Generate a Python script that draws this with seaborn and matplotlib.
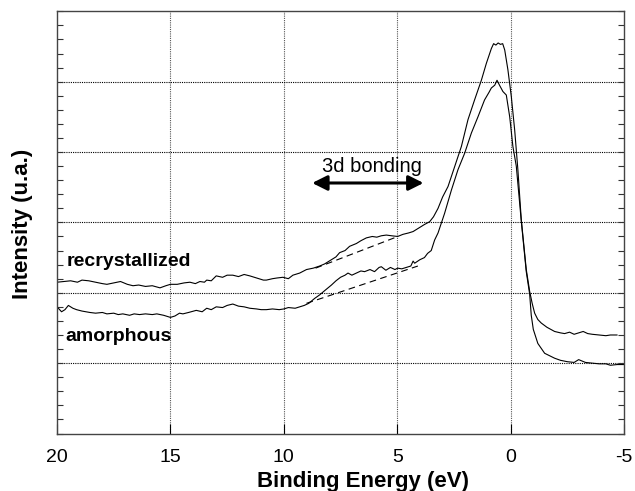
import numpy as np
import pandas as pd
import matplotlib
matplotlib.use("Agg")
import matplotlib.pyplot as plt
import seaborn as sns
from matplotlib.ticker import MultipleLocator, FixedLocator, NullFormatter

# ---------------- data ----------------
recryst_E = [20.0, 19.7, 19.4, 19.1, 18.9, 18.6, 18.3, 18.0, 17.8, 17.5, 17.2, 16.9, 16.65,
             16.4, 16.1, 15.8, 15.46, 15.2, 15.0, 14.7, 14.4, 14.14, 13.9, 13.7, 13.5, 13.4,
             13.2, 12.98, 12.7, 12.5, 12.25, 12.0, 11.75, 11.5, 11.2, 10.9, 10.77, 10.5, 10.3,
             10.04, 9.8, 9.6, 9.3, 9.0, 8.7, 8.42, 8.2, 7.9, 7.7, 7.54, 7.3, 7.1, 6.8, 6.6,
             6.36, 6.1, 5.9, 5.7, 5.48, 5.25, 4.98, 4.75, 4.5, 4.3, 4.0, 3.8, 3.57, 3.4, 3.2,
             3.0, 2.76, 2.47, 2.17, 1.88, 1.59, 1.29, 1.07, 0.85, 0.75, 0.65, 0.55, 0.45, 0.35,
             0.26, 0.12, -0.03, -0.18, -0.32, -0.47, -0.69, -0.84, -0.95, -1.06, -1.2, -1.35,
             -1.6, -1.94, -2.2, -2.38, -2.6, -2.8, -3.0, -3.2, -3.4, -3.6, -3.9, -4.2, -4.4, -4.7]
recryst_I = [2.15, 2.16, 2.17, 2.15, 2.18, 2.17, 2.15, 2.13, 2.12, 2.14, 2.16, 2.12, 2.10,
             2.11, 2.09, 2.10, 2.07, 2.10, 2.12, 2.12, 2.14, 2.15, 2.13, 2.16, 2.15, 2.18,
             2.17, 2.24, 2.22, 2.25, 2.25, 2.23, 2.26, 2.24, 2.21, 2.18, 2.18, 2.20, 2.21,
             2.22, 2.20, 2.25, 2.28, 2.33, 2.35, 2.38, 2.41, 2.47, 2.51, 2.57, 2.60, 2.66, 2.70, 2.74,
             2.78, 2.80, 2.79, 2.81, 2.82, 2.81, 2.80, 2.83, 2.85, 2.87, 2.93, 2.97, 3.01, 3.08, 3.20,
             3.36, 3.51, 3.79, 4.08, 4.46, 4.74, 5.02, 5.26, 5.47, 5.54, 5.52, 5.55, 5.53, 5.54,
             5.45, 5.17, 4.79, 4.31, 3.75, 3.04, 2.33, 2.02, 1.85, 1.71, 1.62, 1.57,
             1.51, 1.45, 1.43, 1.42, 1.44, 1.41, 1.43, 1.45, 1.42, 1.41, 1.40, 1.39, 1.40, 1.40]

amorph_E = [20.0, 19.8, 19.65, 19.5, 19.3, 19.14, 18.9, 18.55, 18.3, 18.0, 17.8, 17.5, 17.3,
            17.1, 16.8, 16.6, 16.36, 16.1, 15.8, 15.6, 15.3, 15.0, 14.8, 14.6, 14.45, 14.2,
            13.86, 13.6, 13.4, 13.2, 12.98, 12.7, 12.5, 12.25, 12.0, 11.75, 11.5, 11.2, 11.0,
            10.77, 10.5, 10.2, 10.0, 9.8, 9.5, 9.3, 9.1, 8.9, 8.64, 8.42, 8.2, 7.9, 7.7, 7.5,
            7.3, 7.17, 7.0, 6.8, 6.6, 6.44, 6.2, 6.0, 5.8, 5.7, 5.5, 5.3, 5.1, 4.98, 4.8, 4.6,
            4.4, 4.3, 4.23, 4.0, 3.8, 3.66, 3.5, 3.35, 3.2, 2.91, 2.61, 2.32, 2.03, 1.73, 1.44,
            1.15, 0.95, 0.85, 0.7, 0.6, 0.49, 0.34, 0.19, 0.04, -0.1, -0.25, -0.47, -0.69,
            -0.84, -0.91, -1.0, -1.2, -1.5, -1.94, -2.2, -2.51, -2.8, -3.0, -3.3, -3.6, -3.9,
            -4.2, -4.4, -4.7, -5.0]
amorph_I = [1.80, 1.73, 1.76, 1.82, 1.78, 1.76, 1.74, 1.72, 1.71, 1.72, 1.70, 1.71, 1.69,
            1.70, 1.68, 1.70, 1.69, 1.70, 1.69, 1.70, 1.68, 1.65, 1.67, 1.71, 1.70, 1.72,
            1.75, 1.73, 1.78, 1.76, 1.80, 1.79, 1.82, 1.84, 1.81, 1.80, 1.78, 1.77, 1.76,
            1.76, 1.77, 1.76, 1.77, 1.79, 1.78, 1.80, 1.82, 1.85, 1.92, 1.97, 2.03, 2.11, 2.17, 2.22,
            2.25, 2.28, 2.25, 2.28, 2.31, 2.30, 2.33, 2.30, 2.36, 2.37, 2.32, 2.36, 2.33, 2.35, 2.34, 2.36,
            2.38, 2.45, 2.42, 2.47, 2.50, 2.56, 2.60, 2.75, 2.85, 3.13, 3.46, 3.75, 3.98, 4.27, 4.50,
            4.74, 4.85, 4.91, 4.95, 5.02, 4.95, 4.86, 4.81, 4.50, 4.08, 3.80, 3.02, 2.30,
            1.98, 1.68, 1.48, 1.28, 1.14, 1.07, 1.04, 1.02, 1.01, 1.05, 1.01, 1.00, 0.99,
            0.99, 0.97, 0.98, 0.98]

# linear background (dashed) lines
recryst_bg_E = [8.6, 4.97]
recryst_bg_I = [2.35, 2.80]
amorph_bg_E = [9.0, 4.09]
amorph_bg_I = [1.85, 2.38]

x_ticks = [20, 15, 10, 5, 0, -5]
x_ticklabels = ["20", "15", "10", "5", "0", "-5"]

# ---------------- plot ----------------
sns.set_style("white")
plt.rcParams["font.family"] = ["Liberation Sans", "DejaVu Sans"]
plt.rcParams["text.color"] = "black"
plt.rcParams["axes.labelcolor"] = "black"
plt.rcParams["xtick.color"] = "black"
plt.rcParams["ytick.color"] = "black"

fig = plt.figure(figsize=(6.35, 4.91), dpi=100)
ax = fig.add_axes([0.0898, 0.1171, 0.8929, 0.8599])

df_r = pd.DataFrame({"E": recryst_E, "I": recryst_I})
df_a = pd.DataFrame({"E": amorph_E, "I": amorph_I})
sns.lineplot(data=df_r, x="E", y="I", ax=ax, color="black", lw=0.8, sort=False, estimator=None)
sns.lineplot(data=df_a, x="E", y="I", ax=ax, color="black", lw=0.8, sort=False, estimator=None)
ax.plot(recryst_bg_E, recryst_bg_I, color="black", lw=0.8, ls=(0, (6, 4)))
ax.plot(amorph_bg_E, amorph_bg_I, color="black", lw=0.8, ls=(0, (6, 4)))

ax.set_xlim(20, -5)
ax.set_ylim(0, 6)

# grid (dotted)
for xv in [15, 10, 5, 0]:
    ax.axvline(xv, color="#555555", lw=0.8, ls=(0, (1, 1)), zorder=0)
for yv in [1, 2, 3, 4, 5]:
    ax.axhline(yv, color="black", lw=0.8, ls=(0, (1, 1)), zorder=0)

ax.set_xticks(x_ticks)
ax.set_xticklabels(x_ticklabels)
ax.yaxis.set_major_locator(FixedLocator([1, 2, 3, 4, 5]))
ax.yaxis.set_minor_locator(MultipleLocator(0.2))
ax.yaxis.set_major_formatter(NullFormatter())
ax.tick_params(axis="x", which="major", direction="in", length=7, width=0.8,
               labelsize=14, pad=11, bottom=True, top=False, colors="black")
ax.tick_params(axis="y", which="both", direction="in", left=True, right=True,
               length=4, width=0.8, colors="#333333")

for s in ax.spines.values():
    s.set_color("#444444")
    s.set_linewidth(1.0)

ax.set_xlabel("Binding Energy (eV)", fontsize=16, fontweight="bold", color="black")
ax.set_ylabel("Intensity (u.a.)", fontsize=16, fontweight="bold", color="black")
ax.xaxis.set_label_coords(0.54, -0.088)
ax.yaxis.set_label_coords(-0.042, 0.496)

ax.text(19.59, 2.38, "recrystallized", fontsize=14, fontweight="bold", ha="left",
        va="baseline", color="black")
ax.text(19.62, 1.31, "amorphous", fontsize=14, fontweight="bold", ha="left",
        va="baseline", color="black")

ax.text(6.1, 3.72, "3d bonding", fontsize=14.5, ha="center", va="baseline", color="black")
ax.annotate("", xy=(3.84, 3.56), xytext=(8.75, 3.56),
            arrowprops=dict(arrowstyle="<|-|>,head_length=0.9,head_width=0.45",
                            color="black", lw=2.2, shrinkA=0, shrinkB=0))

fig.savefig("out.png", dpi=100)
